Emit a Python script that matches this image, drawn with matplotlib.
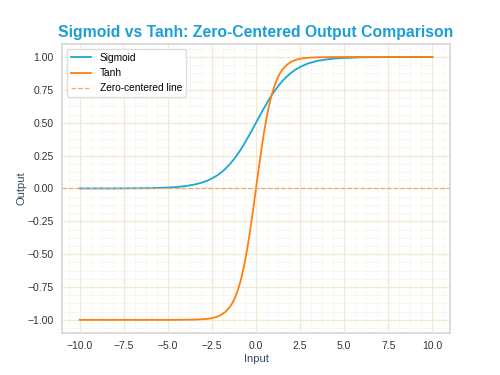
import matplotlib
matplotlib.use("Agg")
import matplotlib.pyplot as plt
from matplotlib.ticker import MultipleLocator

# input values (denser around zero where the curves bend)
x_vals = [-10, -9, -8, -7, -6, -5, -4.5, -4, -3.5, -3, -2.75, -2.5, -2.25, -2,
          -1.75, -1.5, -1.375, -1.25, -1.125, -1, -0.875, -0.75, -0.625, -0.5,
          -0.375, -0.25, -0.125, 0,
          0.125, 0.25, 0.375, 0.5, 0.625, 0.75, 0.875, 1, 1.125, 1.25, 1.375,
          1.5, 1.75, 2, 2.25, 2.5, 2.75, 3, 3.5, 4, 4.5, 5, 6, 7, 8, 9, 10]

sigmoid_vals = [0.000, 0.000, 0.000, 0.001, 0.002, 0.007, 0.011, 0.018, 0.029,
                0.047, 0.060, 0.076, 0.095, 0.119, 0.148, 0.182, 0.202, 0.223,
                0.245, 0.269, 0.294, 0.321, 0.349, 0.378, 0.407, 0.438, 0.469,
                0.500,
                0.531, 0.562, 0.593, 0.622, 0.651, 0.679, 0.706, 0.731, 0.755,
                0.777, 0.798, 0.818, 0.852, 0.881, 0.905, 0.924, 0.940, 0.953,
                0.971, 0.982, 0.989, 0.993, 0.998, 0.999, 1.000, 1.000, 1.000]

tanh_vals = [-1.000, -1.000, -1.000, -1.000, -1.000, -1.000, -1.000, -0.999,
             -0.998, -0.995, -0.992, -0.987, -0.978, -0.964, -0.941, -0.905,
             -0.880, -0.848, -0.809, -0.762, -0.704, -0.635, -0.555, -0.462,
             -0.358, -0.245, -0.124, 0.000,
             0.124, 0.245, 0.358, 0.462, 0.555, 0.635, 0.704, 0.762, 0.809,
             0.848, 0.880, 0.905, 0.941, 0.964, 0.978, 0.987, 0.992, 0.995,
             0.998, 0.999, 1.000, 1.000, 1.000, 1.000, 1.000, 1.000, 1.000]

plt.rcParams['font.family'] = ['Liberation Sans', 'DejaVu Sans']

fig = plt.figure(figsize=(5, 3.75), dpi=100)
ax = fig.add_axes([0.124, 0.112, 0.776, 0.771])

ax.plot(x_vals, sigmoid_vals, color='#1aa7d6', lw=1.3, label='Sigmoid')
ax.plot(x_vals, tanh_vals, color='#ff7f0e', lw=1.3, label='Tanh')
ax.axhline(0, color='#f0a868', lw=0.9, ls='--', label='Zero-centered line')

ax.set_yticks([-1.0, -0.75, -0.5, -0.25, 0.0, 0.25, 0.5, 0.75, 1.0])
ax.set_xticks([-10, -7.5, -5, -2.5, 0, 2.5, 5, 7.5, 10])
ax.set_yticklabels(['−1.00', '−0.75', '−0.50', '−0.25', '0.00', '0.25', '0.50', '0.75', '1.00'])
ax.set_xticklabels(['−10.0', '−7.5', '−5.0', '−2.5', '0.0', '2.5', '5.0', '7.5', '10.0'])
ax.xaxis.set_minor_locator(MultipleLocator(0.625))
ax.yaxis.set_minor_locator(MultipleLocator(0.0625))
ax.grid(which='major', color='#f0ebd0', lw=0.9)
ax.grid(which='minor', color='#f8f6ea', lw=0.6)
ax.set_axisbelow(True)
ax.tick_params(which='both', length=0, labelsize=7.5, colors='#333333', pad=6)

for s in ax.spines.values():
    s.set_color('#d6d6d6')
    s.set_linewidth(1.2)

ax.set_xlabel('Input', fontsize=8, color='#34495e', labelpad=2)
ax.set_ylabel('Output', fontsize=8, color='#34495e', labelpad=1)
ax.set_title('Sigmoid vs Tanh: Zero-Centered Output Comparison',
             fontsize=11.3, fontweight='bold', color='#1a9fd6', pad=5)

ax.legend(loc='upper left', fontsize=7.3, frameon=True, edgecolor='#dddddd',
          framealpha=1.0, fancybox=True, handlelength=2.0)

fig.savefig('out.png', dpi=100)
